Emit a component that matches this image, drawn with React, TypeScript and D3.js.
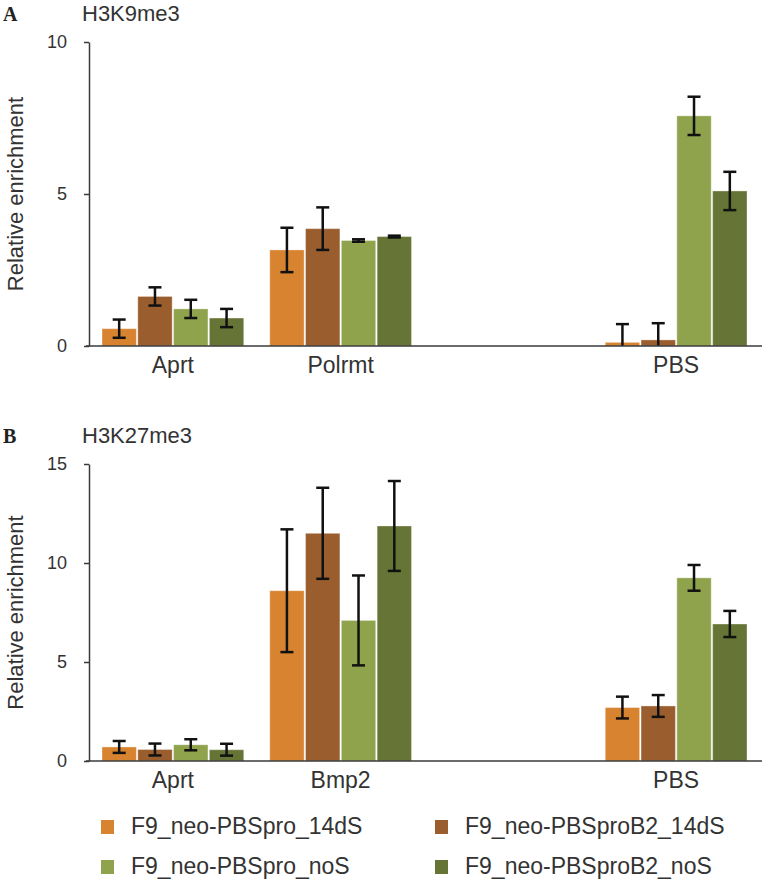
import React, { useEffect, useRef } from 'react'
import { select, scaleLinear, scaleBand, axisLeft } from 'd3'

const seriesNames = [
  'F9_neo-PBSpro_14dS',
  'F9_neo-PBSproB2_14dS',
  'F9_neo-PBSpro_noS',
  'F9_neo-PBSproB2_noS'
]
const seriesColors = ['#d8832f', '#9a5d2d', '#8fa24c', '#667535']

// empty slot between the 2nd gene and PBS
const categoriesA = ['Aprt', 'Polrmt', '', 'PBS']
const categoriesB = ['Aprt', 'Bmp2', '', 'PBS']

// H3K9me3: one array per series, values per category (gap slot is null)
const k9Values = [
  [0.57, 3.16, null, 0.12],
  [1.63, 3.86, null, 0.2],
  [1.22, 3.47, null, 7.57],
  [0.92, 3.6, null, 5.1]
]
const k9Errors = [
  [0.3, 0.73, null, 0.6],
  [0.3, 0.7, null, 0.55],
  [0.3, 0.04, null, 0.63],
  [0.3, 0.03, null, 0.63]
]

// H3K27me3
const k27Values = [
  [0.71, 8.6, null, 2.7],
  [0.58, 11.5, null, 2.78],
  [0.82, 7.1, null, 9.25],
  [0.57, 11.87, null, 6.92]
]
const k27Errors = [
  [0.3, 3.1, null, 0.55],
  [0.3, 2.3, null, 0.55],
  [0.28, 2.27, null, 0.65],
  [0.3, 2.27, null, 0.66]
]

const ticksA = [0, 5, 10]
const ticksB = [0, 5, 10, 15]

const FONT = '"Liberation Sans", Arial, Helvetica, sans-serif'

const Panel = ({ letter, title, categories, values, errors, ticks, top, bottom }) => {
  const axisRef = useRef()
  const xScale = scaleBand()
    .domain(categories.map((c, i) => c + '#' + i))
    .range([89, 760])
    .paddingInner(0.155)
    .paddingOuter(0.0775)
  const inner = scaleBand()
    .domain(seriesNames)
    .range([0, xScale.bandwidth()])
    .paddingInner(0.04)
  const yScale = scaleLinear()
    .domain([0, ticks[ticks.length - 1]])
    .range([bottom, top])

  useEffect(() => {
    const g = select(axisRef.current)
    g.call(axisLeft(yScale).tickValues(ticks).tickSize(5).tickSizeOuter(0).tickPadding(17))
    g.select('.domain').attr('stroke', '#3a3a3a').attr('stroke-width', 1.5)
    g.selectAll('.tick line').attr('stroke', '#3a3a3a').attr('stroke-width', 1.5)
    g.selectAll('.tick text')
      .attr('font-family', FONT)
      .attr('font-size', 18)
      .attr('fill', '#333')
  }, [ticks, top, bottom])

  const keys = xScale.domain()
  return (
    <g>
      <text x={3} y={top - 21} fontFamily='"Liberation Serif", "DejaVu Serif", serif' fontWeight="bold" fontSize={20} fill="#222">{letter}</text>
      <text x={82} y={top - 21} fontFamily={FONT} fontSize={22} fill="#333">{title}</text>
      <text transform={`translate(23,${(top + bottom) / 2}) rotate(-90)`} textAnchor="middle" fontFamily={FONT} fontSize={22} fill="#333">Relative enrichment</text>
      {seriesNames.map((s, si) => (
        <g key={s}>
          {keys.map((k, ci) => {
            const v = values[si][ci]
            if (v == null) return null
            const e = errors[si][ci]
            const x0 = xScale(k) + inner(s)
            const w = inner.bandwidth()
            const cx = x0 + w / 2
            const lo = Math.max(0, v - e)
            return (
              <g key={k}>
                <rect x={x0} y={yScale(v)} width={w} height={yScale(0) - yScale(v)} fill={seriesColors[si]} stroke="rgba(255,255,255,0.35)" strokeWidth={1} />
                <line x1={cx} x2={cx} y1={yScale(v + e)} y2={yScale(lo)} stroke="#111" strokeWidth={2.5} />
                <line x1={cx - 6.5} x2={cx + 6.5} y1={yScale(v + e)} y2={yScale(v + e)} stroke="#111" strokeWidth={2.5} />
                {v - e >= 0 && (
                  <line x1={cx - 6.5} x2={cx + 6.5} y1={yScale(lo)} y2={yScale(lo)} stroke="#111" strokeWidth={2.5} />
                )}
              </g>
            )
          })}
        </g>
      ))}
      <line x1={86} x2={xScale.range()[1] + 2} y1={yScale(0)} y2={yScale(0)} stroke="#3a3a3a" strokeWidth={1.5} />
      <g ref={axisRef} transform="translate(89,0)" />
      {keys.map((k, ci) => (
        <text key={k} x={xScale(k) + xScale.bandwidth() / 2} y={yScale(0) + 27} textAnchor="middle" fontFamily={FONT} fontSize={23} fill="#333">{categories[ci]}</text>
      ))}
    </g>
  )
}

const legendX = [101, 435]
const legendY = [827, 867]

export default function App() {
  return (
    <div style={{ position: 'absolute', left: 0, top: 0 }}>
      <svg width={764} height={882} style={{ display: 'block', background: '#fff' }}>
        <Panel letter="A" title="H3K9me3" categories={categoriesA} values={k9Values} errors={k9Errors} ticks={ticksA} top={42} bottom={346} />
        <Panel letter="B" title="H3K27me3" categories={categoriesB} values={k27Values} errors={k27Errors} ticks={ticksB} top={464} bottom={761} />
        {seriesNames.map((s, i) => {
          const lx = legendX[i % 2]
          const ly = legendY[Math.floor(i / 2)]
          return (
            <g key={s}>
              <rect x={lx} y={ly - 7} width={13} height={14} fill={seriesColors[i]} />
              <text x={lx + 30} y={ly + 7} fontFamily={FONT} fontSize={23} fill="#333">{s}</text>
            </g>
          )
        })}
      </svg>
    </div>
  )
}
